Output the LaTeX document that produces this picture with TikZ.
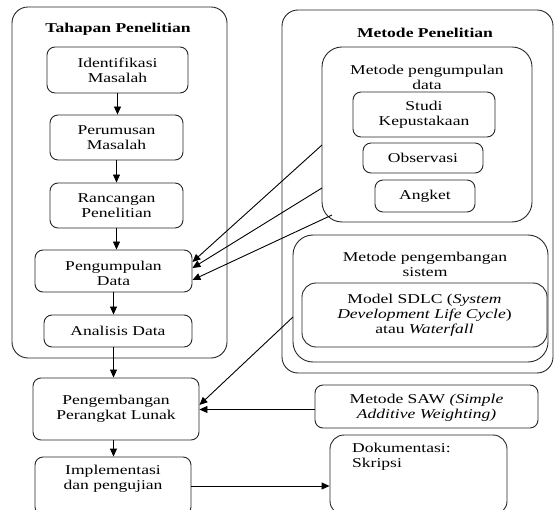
\documentclass[tikz,border=0pt]{standalone}
\usepackage{fontspec}
\setmainfont{Liberation Serif}[FakeStretch=1.3]
\usetikzlibrary{arrows.meta}
\usetikzlibrary{calc}

\tikzset{
  box/.style={draw=black!85, line width=0.9pt, rounded corners=8pt, align=center, inner sep=0pt, font=\fontsize{13.5}{15}\selectfont},
  txt/.style={align=center, inner sep=0pt, font=\fontsize{13.5}{15}\selectfont},
  head/.style={inner sep=0pt, font=\fontsize{13.5}{15}\selectfont\bfseries},
  flow/.style={draw=black, line width=0.9pt, -{Triangle[length=8pt,width=7pt]}},
}

\begin{document}
\begin{tikzpicture}[x=1pt, y=-1pt]
      \useasboundingbox (0,0) rectangle (554,510);

      \node[box, rounded corners=16pt, minimum width=215pt, minimum height=351pt] (tahapan) at (119.5,182.5) {};
      \node[head] (tahapantitle) at (118,29) {Tahapan Penelitian};
      \node[box, minimum width=141pt, minimum height=46pt] (idf) at (117.5,70) {Identifikasi\\Masalah};
      \node[box, minimum width=133pt, minimum height=45pt] (prm) at (116.5,137.5) {Perumusan\\Masalah};
      \node[box, minimum width=133pt, minimum height=45pt] (rnc) at (116.5,205.5) {Rancangan\\Penelitian};
      \node[box, minimum width=157pt, minimum height=42pt] (pgd) at (113.5,271) {};
      \begin{scope}
        \clip (35,250) rectangle (192,285);
        \node[txt] (pgdtxt) at (113.5,273.5) {Pengumpulan\\Data};
      \end{scope}
      \node[box, minimum width=148pt, minimum height=32pt] (ana) at (118,331) {Analisis Data};
      \node[box, minimum width=166pt, minimum height=62pt] (ppl) at (116,409) {Pengembangan\\Perangkat Lunak};
      \node[box, minimum width=156pt, minimum height=58pt] (imp) at (113,486) {};
      \node[txt] (imptxt) at (113,479) {Implementasi\\dan pengujian};

      \node[box, rounded corners=16pt, minimum width=271pt, minimum height=363pt] (metode) at (417.5,191.5) {};
      \node[head] (metodetitle) at (425,33) {Metode Penelitian};
      \node[box, rounded corners=20pt, minimum width=210pt, minimum height=175pt] (mpd) at (427,134.5) {};
      \node[txt] (mpdtxt) at (427,77) {Metode pengumpulan\\data};
      \node[box, minimum width=142pt, minimum height=45pt] (stk) at (424,114.5) {Studi\\Kepustakaan};
      \node[box, minimum width=120pt, minimum height=30pt] (obs) at (423,158) {Observasi};
      \node[box, minimum width=100pt, minimum height=32pt] (ang) at (425,196) {Angket};
      \node[box, rounded corners=20pt, minimum width=255pt, minimum height=127pt] (mps) at (420.5,298.5) {};
      \node[txt] (mpstxt) at (425,264) {Metode pengembangan\\sistem};
      \node[box, rounded corners=14pt, minimum width=245pt, minimum height=64pt] (sdlc) at (424.5,315) {Model SDLC (\textit{System}\\\textit{Development Life Cycle})\\atau \textit{Waterfall}};
      \node[box, minimum width=223pt, minimum height=43pt] (saw) at (426.5,406.5) {};
      \begin{scope}
        \clip (315,385) rectangle (538,422);
        \node[txt] (sawtxt) at (426.5,407.5) {Metode SAW \textit{(Simple}\\\textit{Additive Weighting)}};
      \end{scope}
      \node[box, rounded corners=14pt, minimum width=177pt, minimum height=80pt] (dok) at (418.5,475) {};
      \node[txt, align=left, anchor=north west] (doktxt) at (352,442.5) {Dokumentasi:\\Skripsi};

      \coordinate (d1) at (322,145);
      \coordinate (d2) at (322,188);
      \coordinate (d3) at (332,215);
      \coordinate (s1) at (293,317);

      \draw[flow] (idf.south) -- (idf.south |- prm.north);
      \draw[flow] (prm.south) -- (prm.south |- rnc.north);
      \draw[flow] (rnc.south) -- (rnc.south |- pgd.north);
      \draw[flow] (pgd.south) -- (pgd.south |- ana.north);
      \draw[flow] (pgd.south |- ana.south) -- (pgd.south |- ppl.north);
      \draw[flow] (pgd.south |- ppl.south) -- (pgd.south |- imp.north);
      \draw[flow] (d1) -- ([yshift=9pt]pgd.east);
      \draw[flow] (d2) -- ([yshift=3pt]pgd.east);
      \draw[flow] (d3) -- ([yshift=-9pt]pgd.east);
      \draw[flow] (s1) -- ([yshift=4pt]ppl.east);
      \draw[flow] ([yshift=-3pt]saw.west) -- ([yshift=-3pt]saw.west -| ppl.east);
      \draw[flow] (imp.east) -- (imp.east -| dok.west);
    \end{tikzpicture}
\end{document}
